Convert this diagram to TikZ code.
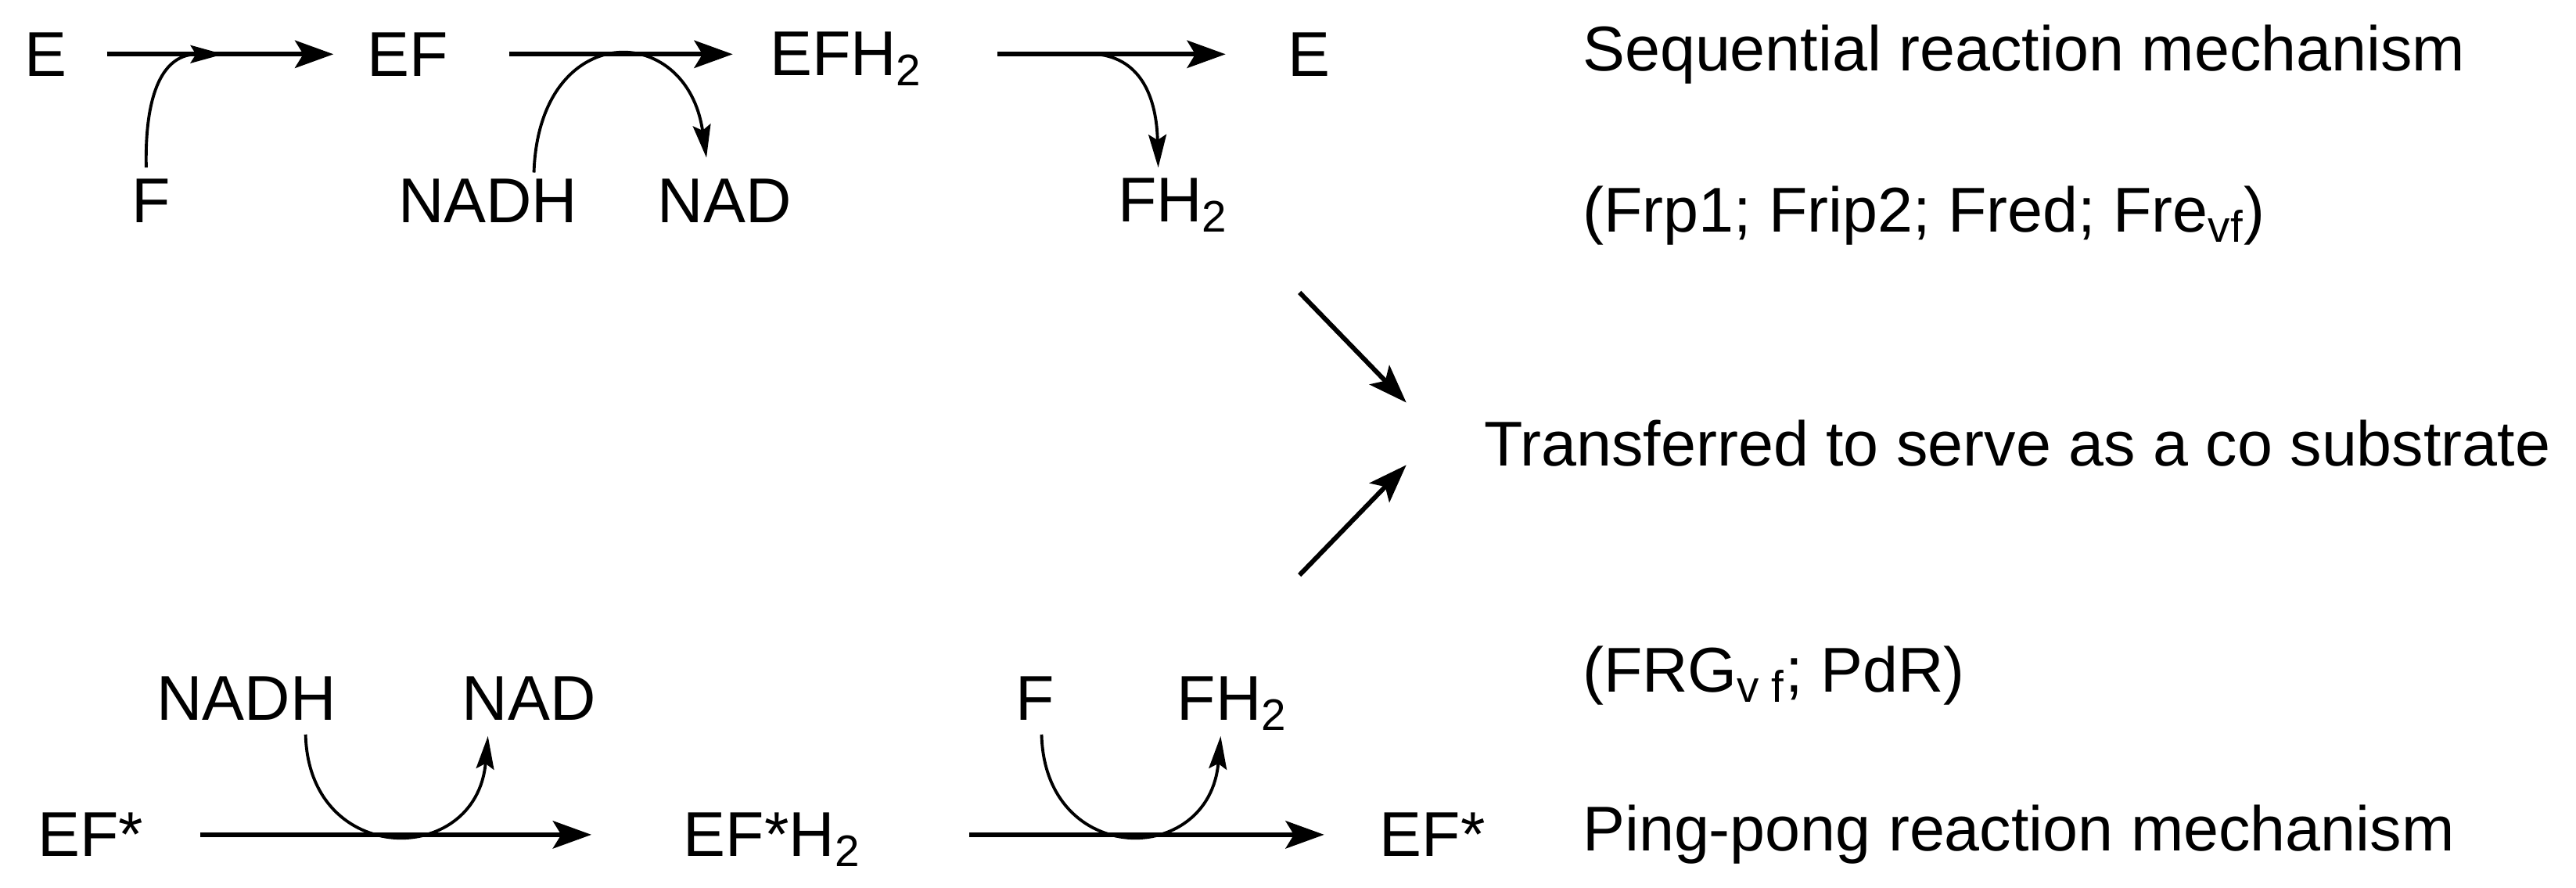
\documentclass[tikz,border=0pt]{standalone}
\usepackage{fontspec}
\setmainfont{Liberation Sans}
\usetikzlibrary{arrows.meta}
\begin{document}
\begin{tikzpicture}[x=0.021cm,y=-0.021cm,
  lbl/.style={font=\fontsize{23}{27}\selectfont,inner sep=0pt},
  rxn/.style={line width=1.7pt,-{Stealth[length=14pt,width=10pt,inset=3pt]}},
  crv/.style={line width=1.1pt,-{Stealth[length=12pt,width=6.5pt,inset=2pt]}}]
\useasboundingbox (0,0) rectangle (1568,540);
% top row
\node[lbl] (e1) at (28,33) {E};
\node[lbl] (ef) at (248,33) {EF};
\node[lbl] (efh) at (515,36) {EFH\textsubscript{2}};
\node[lbl] (e2) at (797,33) {E};
\node[lbl] (f1) at (92,122) {F};
\node[lbl] (nadh1) at (297,122) {NADH};
\node[lbl] (nad1) at (441,122) {NAD};
\node[lbl] (fh1) at (714,125) {FH\textsubscript{2}};
\coordinate (p1) at (65,33);  \coordinate (q1) at (203,33);
\coordinate (p2) at (310,33); \coordinate (q2) at (446,33);
\coordinate (p3) at (607,33); \coordinate (q3) at (746,33);
\draw[rxn] (p1) -- (q1);
\draw[rxn] (p2) -- (q2);
\draw[rxn] (p3) -- (q3);
\coordinate (a1) at (89,102);
\coordinate (a1e) at (136,33);
\draw[crv] (a1) .. controls (88,55) and (100,33) .. (a1e);
\coordinate (a2s) at (325,105);
\coordinate (a2e) at (430,96);
\draw[crv] (a2s) .. controls (328,12) and (418,12) .. (a2e);
\coordinate (a3s) at (668,33);
\coordinate (a3e) at (705,102);
\draw[crv] (a3s) .. controls (695,36) and (704,60) .. (a3e);
% right texts
\node[lbl,anchor=west] (t1) at (963,33) {Sequential reaction mechanism};
\node[lbl,anchor=west] (t2) at (963,131) {(Frp1; Frip2; Fred; Fre\textsubscript{vf})};
\node[lbl,anchor=west] (t3) at (903,270) {Transferred to serve as a co substrate};
\node[lbl,anchor=west] (t4) at (963,411) {(FRG\textsubscript{v f}; PdR)};
\node[lbl,anchor=west] (t5) at (963,508) {Ping-pong reaction mechanism};
\coordinate (d1s) at (791,178);
\coordinate (d1e) at (856,245);
\coordinate (d2s) at (791,350);
\coordinate (d2e) at (856,283);
\draw[rxn] (d1s) -- (d1e);
\draw[rxn] (d2s) -- (d2e);
% bottom row
\node[lbl] (b1) at (55,508) {EF*};
\node[lbl] (b2) at (470,511) {EF*H\textsubscript{2}};
\node[lbl] (b3) at (872,508) {EF*};
\node[lbl] (nadh2) at (150,425) {NADH};
\node[lbl] (nad2) at (322,425) {NAD};
\node[lbl] (f2) at (630,425) {F};
\node[lbl] (fh2) at (750,428) {FH\textsubscript{2}};
\coordinate (r1s) at (122,508); \coordinate (r1e) at (360,508);
\coordinate (r2s) at (590,508); \coordinate (r2e) at (806,508);
\draw[rxn] (r1s) -- (r1e);
\draw[rxn] (r2s) -- (r2e);
\draw[crv] (186,447) .. controls (188,528) and (290,528) .. (297,448);
\draw[crv] (634,447) .. controls (636,528) and (736,528) .. (743,448);
\end{tikzpicture}
\end{document}
